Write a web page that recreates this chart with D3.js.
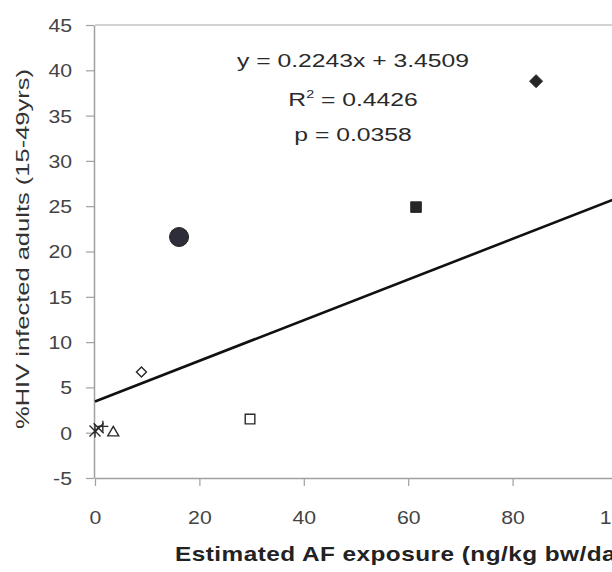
<!DOCTYPE html>
<html>
<head>
<meta charset="utf-8">
<script src="https://cdn.jsdelivr.net/npm/d3@7"></script>
<style>
  html, body { margin: 0; padding: 0; background: #fff; }
  svg { display: block; }
  text { font-family: "Liberation Sans", Arial, sans-serif; }
</style>
</head>
<body>
<svg id="chart" width="612" height="572"></svg>
<script>
// ---- data ----
const exposure = [84.5, 61.5, 16.1, 8.9, 29.7, 3.5, 0.0, 0.7, 1.5];      // ng/kg bw/day
const hivPct   = [38.8, 24.9, 21.6, 6.7, 1.5, 0.1, 0.2, 0.5, 0.7];       // % HIV infected adults
const markerKinds = ["diamondFilled", "squareFilled", "circleFilled", "diamondOpen",
                     "squareOpen", "triangleOpen", "asterisk", "times", "plus"];
const xTicks = [0, 20, 40, 60, 80, 100];
const yTicks = [-5, 0, 5, 10, 15, 20, 25, 30, 35, 40, 45];
const slope = 0.2243, intercept = 3.4509;
const statLines = ["y = 0.2243x + 3.4509", "R2 = 0.4426", "p = 0.0358"];
const xLabel = "Estimated AF exposure (ng/kg bw/day)";
const yLabel = "%HIV infected adults (15-49yrs)";

// ---- layout ----
const svg = d3.select("#chart");
const x = d3.scaleLinear().domain([0, 100]).range([95, 617]);
const y = d3.scaleLinear().domain([-5, 45]).range([478, 25]);
const axisColor = "#a0a0a0";
const tickTextColor = "#444";

// plot area top border
svg.append("line")
  .attr("x1", x(0)).attr("x2", x(100))
  .attr("y1", y(45)).attr("y2", y(45))
  .attr("stroke", "#c4c4c4").attr("stroke-width", 1.5);

// x axis at y = -5
const gx = svg.append("g").attr("transform", `translate(0,${y(-5)})`)
  .call(d3.axisBottom(x).tickValues(xTicks).tickSize(8).tickSizeOuter(0).tickFormat(d => String(d)));
gx.select(".domain").attr("stroke", axisColor).attr("stroke-width", 1.5);
gx.selectAll(".tick line").attr("stroke", axisColor).attr("stroke-width", 1.2);
gx.selectAll(".tick text")
  .attr("fill", tickTextColor).attr("font-size", 18)
  .attr("y", 46).attr("dy", null)
  .attr("transform", "scale(1.18,1)");

// y axis
const gy = svg.append("g").attr("transform", `translate(${x(0) - 1},0)`)
  .call(d3.axisLeft(y).tickValues(yTicks).tickSize(8).tickSizeOuter(0).tickFormat(d => String(d)));
gy.select(".domain").attr("stroke", axisColor).attr("stroke-width", 1.5);
gy.selectAll(".tick line").attr("stroke", axisColor).attr("stroke-width", 1.2);
gy.selectAll(".tick text")
  .attr("fill", tickTextColor).attr("font-size", 18)
  .attr("x", -22 / 1.18).attr("dy", "0.36em")
  .attr("transform", "scale(1.18,1)");
svg.selectAll(".tick text").attr("font-family", "'Liberation Sans', Arial, sans-serif");

// regression line
const xs = [0, 100];
svg.append("path")
  .datum(xs)
  .attr("d", d3.line().x(d => x(d)).y(d => y(slope * d + intercept)))
  .attr("stroke", "#111").attr("stroke-width", 2.6).attr("fill", "none");

// markers
function markerPath(kind) {
  switch (kind) {
    case "diamondFilled": { const r = 6.5; return `M0,${-r}L${r},0L0,${r}L${-r},0Z`; }
    case "diamondOpen":   { const r = 5;   return `M0,${-r}L${r},0L0,${r}L${-r},0Z`; }
    case "squareFilled":  { const r = 5.3; return `M${-r},${-r}H${r}V${r}H${-r}Z`; }
    case "squareOpen":    { const r = 4.8; return `M${-r},${-r}H${r}V${r}H${-r}Z`; }
    case "triangleOpen":  { const r = 5.5; return `M0,${-r}L${r},${r * 0.75}L${-r},${r * 0.75}Z`; }
    case "asterisk":      { const r = 5.5; return `M${-r},${-r}L${r},${r}M${-r},${r}L${r},${-r}M0,${-r * 1.2}V${r * 1.2}`; }
    case "times":         { const r = 5;   return `M${-r},${-r}L${r},${r}M${-r},${r}L${r},${-r}`; }
    case "plus":          { const r = 5.5; return `M${-r},0H${r}M0,${-r}V${r}`; }
  }
  return "";
}
const pts = exposure.map((v, i) => ({ x: v, y: hivPct[i], kind: markerKinds[i] }));
const mk = svg.append("g").selectAll("g").data(pts).join("g")
  .attr("transform", d => `translate(${x(d.x)},${y(d.y)})`);
mk.each(function(d) {
  const g = d3.select(this);
  if (d.kind === "circleFilled") {
    g.append("circle").attr("r", 9.5).attr("fill", "#2e2e3a").attr("stroke", "#222");
  } else {
    const filled = d.kind.endsWith("Filled");
    const open = d.kind.endsWith("Open");
    g.append("path").attr("d", markerPath(d.kind))
      .attr("fill", filled ? "#262626" : (open ? "#fff" : "none"))
      .attr("stroke", "#2a2a2a")
      .attr("stroke-width", filled ? 1 : 1.4);
  }
});

// stats annotation
const statX = 353;
const statY = [67, 106, 141];
statLines.forEach((s, i) => {
  const g = svg.append("g").attr("transform", `translate(${statX},${statY[i]}) scale(1.3,1)`);
  const t = g.append("text").attr("text-anchor", "middle").attr("font-size", 19).attr("fill", "#2a2a2a");
  if (s.startsWith("R2")) {
    t.append("tspan").text("R");
    t.append("tspan").attr("font-size", 11).attr("dy", -8).text("2");
    t.append("tspan").attr("dy", 8).text(s.slice(2));
  } else {
    t.text(s);
  }
});

// x label
svg.append("g").attr("transform", "translate(175,561) scale(1.16,1)")
  .append("text")
  .attr("x", 0).attr("y", 0)
  .attr("font-size", 21).attr("font-weight", "bold")
  .attr("letter-spacing", 0.4)
  .attr("fill", "#222")
  .text(xLabel);

// y label
svg.append("text")
  .attr("transform", `translate(29,${249}) rotate(-90)`)
  .attr("text-anchor", "middle")
  .attr("font-size", 19)
  .attr("fill", "#333")
  .attr("textLength", 360).attr("lengthAdjust", "spacingAndGlyphs")
  .text(yLabel);
</script>
</body>
</html>
